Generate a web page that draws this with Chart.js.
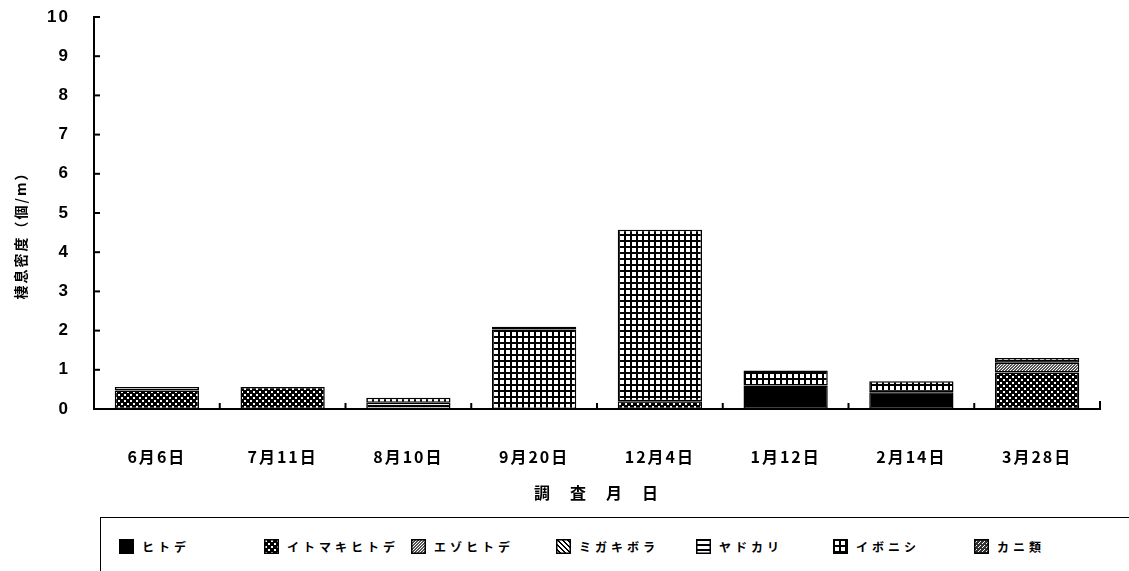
<!DOCTYPE html>
<html>
<head>
<meta charset="utf-8">
<script src="https://cdn.jsdelivr.net/npm/chart.js@4/dist/chart.umd.min.js"></script>
<style>
  body { margin: 0; background: #fff; width: 1129px; height: 571px; overflow: hidden; position: relative; font-family: "Noto Sans CJK JP", sans-serif; }
  #wrap { position: absolute; left: 0; top: 0; width: 1129px; height: 515px; }
  #legend { position: absolute; left: 100px; top: 517px; width: 1060px; height: 70px; border-top: 1.5px solid #000; border-left: 1.5px solid #000; }
  .item { position: absolute; top: 20px; display: flex; align-items: center; font-size: 12px; font-weight: bold; letter-spacing: 4px; color: #000; white-space: nowrap; }
  .item canvas { margin-right: 8px; }
</style>
</head>
<body>
<div id="wrap"><canvas id="chart"></canvas></div>
<div id="legend"></div>
<script>
const categories = ['6月6日', '7月11日', '8月10日', '9月20日', '12月4日', '1月12日', '2月14日', '3月28日'];
const hitode   = [0, 0, 0, 0, 0, 0.60, 0.43, 0];
const itomaki  = [0.47, 0.56, 0, 0, 0.20, 0, 0, 0.93];
const ezo      = [0, 0, 0, 0, 0, 0, 0, 0.25];
const migaki   = [0, 0, 0, 0, 0, 0, 0, 0];
const yadokari = [0.09, 0, 0.16, 0, 0, 0, 0, 0];
const iboni    = [0, 0, 0.13, 2.03, 4.37, 0.38, 0.28, 0.12];
const kani     = [0, 0, 0, 0.07, 0, 0, 0, 0];
const seriesNames = ['ヒトデ', 'イトマキヒトデ', 'エゾヒトデ', 'ミガキボラ', 'ヤドカリ', 'イボニシ', 'カニ類'];
const yTicks = [0, 1, 2, 3, 4, 5, 6, 7, 8, 9, 10];

// small tiles for the hatch fills
function tile(kind) {
  const c = document.createElement('canvas');
  const g = c.getContext('2d');
  if (kind === 'solid') {
    c.width = c.height = 4;
    g.fillStyle = '#000'; g.fillRect(0, 0, 4, 4);
  } else if (kind === 'check') {
    c.width = c.height = 6;
    g.fillStyle = '#000'; g.fillRect(0, 0, 6, 6);
    g.fillStyle = '#fff'; g.fillRect(1, 1, 2, 2); g.fillRect(4, 4, 2, 2);
  } else if (kind === 'fine') {
    c.width = c.height = 3;
    g.fillStyle = '#555'; g.fillRect(0, 0, 3, 3);
    g.fillStyle = '#fff'; g.fillRect(0, 0, 1, 1); g.fillRect(2, 1, 1, 1); g.fillRect(1, 2, 1, 1);
  } else if (kind === 'diag') {
    c.width = c.height = 5;
    g.fillStyle = '#fff'; g.fillRect(0, 0, 5, 5);
    g.fillStyle = '#000';
    for (let i = 0; i < 5; i++) { g.fillRect(i, i, 1, 1); g.fillRect((i + 1) % 5, i, 1, 1); }
  } else if (kind === 'hline') {
    c.width = 4; c.height = 5;
    g.fillStyle = '#fff'; g.fillRect(0, 0, 4, 5);
    g.fillStyle = '#000'; g.fillRect(0, 0, 4, 2);
  } else if (kind === 'grid') {
    c.width = c.height = 6;
    g.fillStyle = '#000'; g.fillRect(0, 0, 6, 6);
    g.fillStyle = '#fff'; g.fillRect(2, 2, 4, 4);
  } else if (kind === 'dots') {
    c.width = c.height = 4;
    g.fillStyle = '#333'; g.fillRect(0, 0, 4, 4);
    g.fillStyle = '#fff'; g.fillRect(0, 0, 1, 1); g.fillRect(2, 2, 1, 1); g.fillRect(1, 3, 1, 1);
  }
  return c;
}

const kinds = ['solid', 'check', 'fine', 'diag', 'hline', 'grid', 'dots'];
const seriesData = [hitode, itomaki, ezo, migaki, yadokari, iboni, kani];
const ctx = document.getElementById('chart').getContext('2d');
const fills = kinds.map(k => ctx.createPattern(tile(k), 'repeat'));

const innerTicks = {
  id: 'innerTicks',
  beforeDraw(chart) { chart.ctx.letterSpacing = '2px'; },
  afterDraw(chart) {
    const c = chart.ctx, x = chart.scales.x, y = chart.scales.y;
    c.save();
    c.strokeStyle = '#000';
    c.lineWidth = 2;
    yTicks.slice(1).forEach(v => {
      const py = y.getPixelForValue(v);
      c.beginPath(); c.moveTo(x.left, py); c.lineTo(x.left + 6, py); c.stroke();
    });
    const half = (x.getPixelForValue(1) - x.getPixelForValue(0)) / 2;
    categories.forEach((_, i) => {
      const px = x.getPixelForValue(i) + half;
      c.beginPath(); c.moveTo(px, y.bottom); c.lineTo(px, y.bottom - (i === categories.length - 1 ? 8 : 6)); c.stroke();
    });
    // y axis title, rotated
    c.translate(21, 232);
    c.rotate(-Math.PI / 2);
    c.font = 'bold 14px "Noto Sans CJK JP"';
    c.letterSpacing = '2px';
    c.fillStyle = '#000';
    c.textAlign = 'center';
    c.textBaseline = 'middle';
    c.fillText('棲息密度（個/m）', 0, 0);
    c.restore();
  }
};

new Chart(ctx, {
  type: 'bar',
  data: {
    labels: categories,
    datasets: seriesNames.map((name, i) => ({
      label: name,
      data: seriesData[i],
      backgroundColor: fills[i],
      borderColor: '#000',
      borderWidth: 1.5,
      borderSkipped: false
    }))
  },
  options: {
    responsive: true,
    maintainAspectRatio: false,
    animation: false,
    layout: { padding: { top: 17, right: 29, left: 0, bottom: 0 } },
    plugins: { legend: { display: false }, tooltip: { enabled: false } },
    datasets: { bar: { categoryPercentage: 1, barPercentage: 0.67 } },
    scales: {
      x: {
        stacked: true,
        grid: { display: false },
        border: { display: true, color: '#000', width: 2 },
        ticks: { color: '#000', padding: 30, font: { family: '"Noto Sans CJK JP"', size: 16, weight: 'bold' } },
        title: { display: true, text: '調　査　月　日', color: '#000', padding: { top: 0, bottom: 12 }, font: { family: '"Noto Sans CJK JP"', size: 16, weight: 'bold' } },
        afterFit(scale) { scale.height = 106; scale.paddingLeft = 0; scale.paddingRight = 0; }
      },
      y: {
        stacked: true,
        min: 0,
        max: 10,
        grid: { display: false },
        border: { display: true, color: '#000', width: 2 },
        ticks: { stepSize: 1, color: '#000', padding: 16, font: { family: '"Liberation Sans", Arial, sans-serif', size: 17, weight: 'bold' } },
        afterFit(scale) { scale.width = 94; scale.paddingTop = 0; scale.paddingBottom = 0; }
      }
    }
  },
  plugins: [innerTicks]
});

// legend box below the chart
const legendLeft = [18, 163, 310, 455, 595, 732, 873];
const legend = document.getElementById('legend');
seriesNames.forEach((name, i) => {
  const item = document.createElement('div');
  item.className = 'item';
  item.style.left = legendLeft[i] + 'px';
  const sw = document.createElement('canvas');
  sw.width = 15; sw.height = 15;
  const g = sw.getContext('2d');
  g.fillStyle = g.createPattern(tile(kinds[i]), 'repeat');
  g.fillRect(0, 0, 15, 15);
  g.strokeStyle = '#000'; g.lineWidth = 1.5;
  g.strokeRect(0.75, 0.75, 13.5, 13.5);
  item.appendChild(sw);
  item.appendChild(document.createTextNode(name));
  legend.appendChild(item);
});
</script>
</body>
</html>
